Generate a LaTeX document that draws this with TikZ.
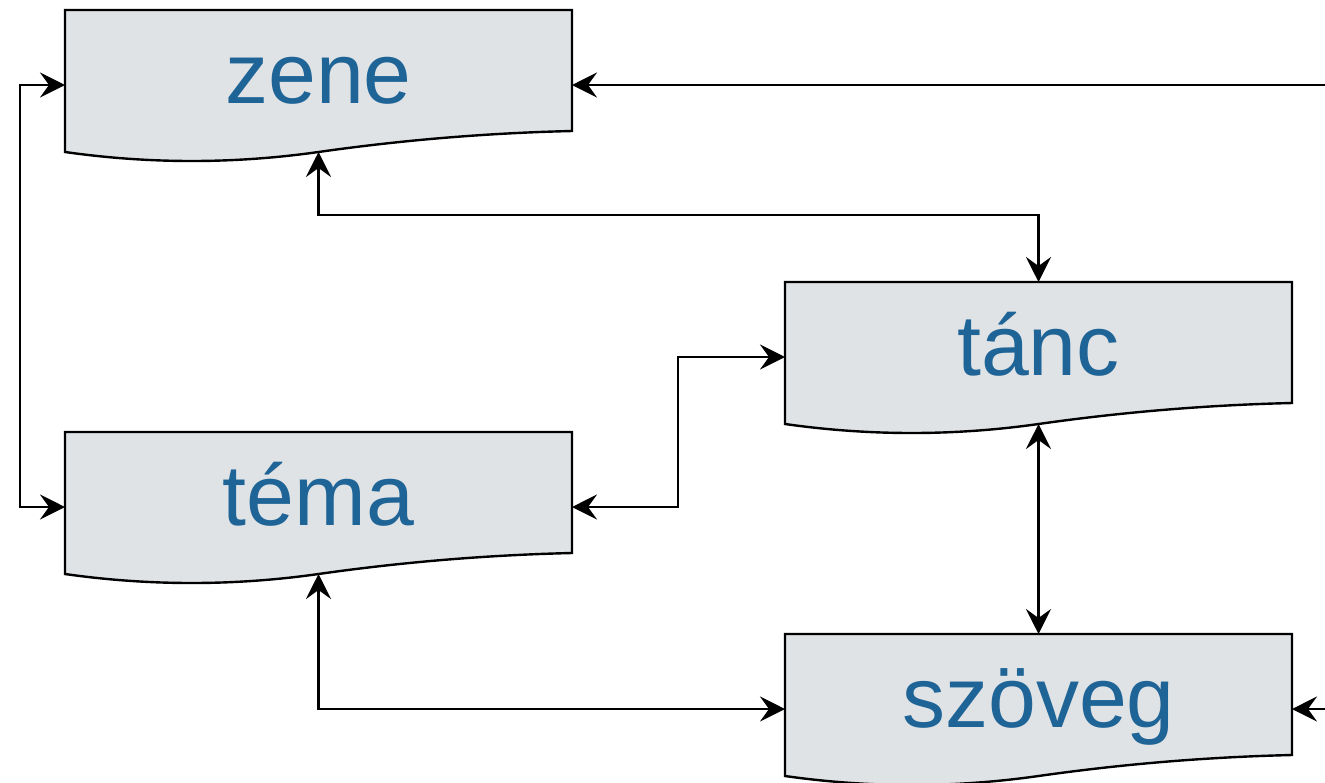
\documentclass[tikz,border=0pt]{standalone}
\usepackage{fontspec}
\setmainfont{Liberation Sans}
\usetikzlibrary{arrows.meta}
\definecolor{boxfill}{HTML}{DFE3E6}
\definecolor{boxtext}{HTML}{1F6496}
\tikzset{
  docshape/.style={draw=black, fill=boxfill, line width=2.4pt, line join=miter},
  doctext/.style={anchor=base, inner sep=0pt, text=boxtext, font=\fontsize{86}{100}\selectfont},
  conn/.style={line width=2.4pt, draw=black},
  tip/.tip={Stealth[length=25pt,width=25pt,inset=9pt]},
}
\newcommand\docbox[4]{%
  \begin{scope}[shift={(#2,#3)}]
    \draw[docshape] (0,0) -- (507,0) -- (507,121)
      .. controls (422.3,123) and (337.8,130) .. (253.5,142)
      .. controls (169,154) and (84.5,154) .. (0,142) -- cycle;
    \node[doctext] (#1) at (253.5,93) {#4};
    \coordinate (#1-n) at (253.5,0);
    \coordinate (#1-s) at (253.5,142);
    \coordinate (#1-w) at (0,75);
    \coordinate (#1-e) at (507,75);
  \end{scope}}
\begin{document}
\begin{tikzpicture}[x=1pt,y=-1pt]
\useasboundingbox (0,0) rectangle (1325,782);
\docbox{zene}{65}{10}{zene}
\docbox{tanc}{785}{282}{tánc}
\docbox{tema}{65}{432}{téma}
\docbox{szoveg}{785}{634}{szöveg}
\coordinate (inz) at (1330,85);
\coordinate (ins) at (1330,709);
\draw[conn,-tip] (inz) -- (zene-e);
\draw[conn,-tip] (ins) -- (szoveg-e);
\draw[conn,tip-tip] (zene-w) -- ++(-45,0) |- (tema-w);
\draw[conn,tip-tip] (zene-s) -- ++(0,63) -| (tanc-n);
\draw[conn,tip-tip] (tema-e) -- ++(106,0) |- (tanc-w);
\draw[conn,tip-tip] (tanc-s) -- (szoveg-n);
\draw[conn,tip-tip] (tema-s) |- (szoveg-w);
\end{tikzpicture}
\end{document}
